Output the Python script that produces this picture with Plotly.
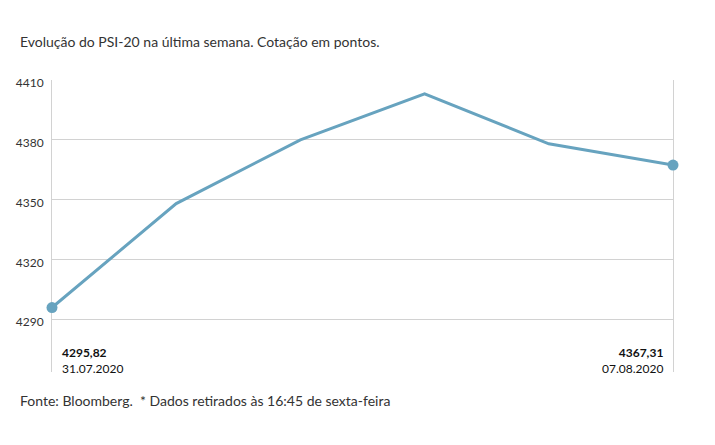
import plotly.graph_objects as go

dates = ["31.07.2020", "03.08.2020", "04.08.2020", "05.08.2020", "06.08.2020", "07.08.2020"]
values = [4295.82, 4348, 4380, 4403, 4378, 4367.31]
yticks = [4290, 4320, 4350, 4380, 4410]
first_label = "4295,82"
last_label = "4367,31"

line_color = "#67a3bf"
text_color = "#333333"
grid_color = "#d2d2d2"
font_family = "Lato, 'Open Sans', sans-serif"

x = list(range(len(values)))

fig = go.Figure()
fig.add_trace(go.Scatter(x=x, y=values, mode="lines", cliponaxis=False,
                         line=dict(color=line_color, width=3), hoverinfo="skip"))
fig.add_trace(go.Scatter(x=[x[0], x[-1]], y=[values[0], values[-1]], mode="markers",
                         marker=dict(color=line_color, size=11), cliponaxis=False,
                         hoverinfo="skip"))

fig.add_annotation(x=x[0], y=0, yref="paper", xref="x",
                   text=f"<b>{first_label}</b><br>{dates[0]}",
                   showarrow=False, xanchor="left", yanchor="bottom", align="left",
                   xshift=8, yshift=-6, font=dict(size=12, color="#111111", family=font_family))
fig.add_annotation(x=x[-1], y=0, yref="paper", xref="x",
                   text=f"<b>{last_label}</b><br>{dates[-1]}",
                   showarrow=False, xanchor="right", yanchor="bottom", align="right",
                   xshift=-8, yshift=-6, font=dict(size=12, color="#111111", family=font_family))

fig.add_annotation(x=0, y=1, xref="paper", yref="paper", xanchor="left", yanchor="top",
                   text="Evolução do PSI-20 na última semana. Cotação em pontos.",
                   showarrow=False, xshift=-34, yshift=49,
                   font=dict(size=14, color=text_color, family=font_family))
fig.add_annotation(x=0, y=0, xref="paper", yref="paper", xanchor="left", yanchor="top",
                   text="Fonte: Bloomberg.  * Dados retirados às 16:45 de sexta-feira",
                   showarrow=False, xshift=-34, yshift=-18,
                   font=dict(size=14, color=text_color, family=font_family))

fig.update_layout(
    width=715, height=445,
    margin=dict(l=52, r=42, t=80, b=73),
    paper_bgcolor="white", plot_bgcolor="white",
    showlegend=False,
    font=dict(family=font_family, color=text_color, size=12),
    xaxis=dict(range=[0, 5], visible=False, fixedrange=True),
    yaxis=dict(range=[4263.5, 4410], tickvals=yticks, ticktext=[str(t) for t in yticks],
               showgrid=True, gridcolor=grid_color, gridwidth=1,
               showline=True, linecolor=grid_color, linewidth=1, mirror=True,
               zeroline=False, ticks="", ticklabelstandoff=5, ticklabelshift=3,
               layer="below traces",
               tickfont=dict(size=12, color=text_color)),
)

fig.write_html("out.html")
